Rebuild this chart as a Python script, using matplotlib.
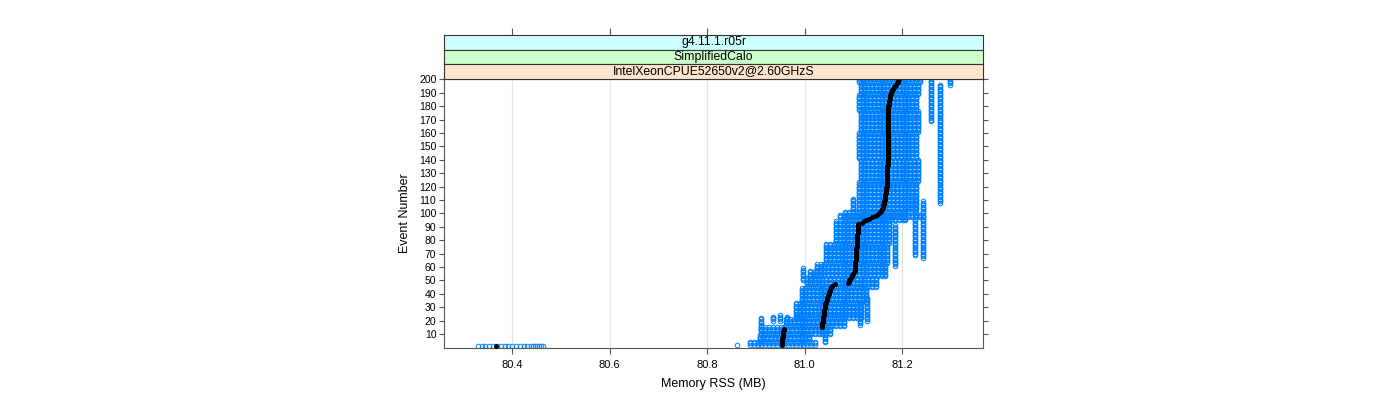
import matplotlib
matplotlib.use("Agg")
import matplotlib.pyplot as plt

plt.rcParams['font.family'] = ['Liberation Sans', 'DejaVu Sans']

# ---------------- data ----------------
STRIP_LABELS = ["g4.11.1.r05r", "SimplifiedCalo", "IntelXeonCPUE52650v2@2.60GHzS"]
STRIP_COLORS = ["#ccffff", "#ccffcc", "#ffe5cc"]
X_TICKS = [80.4, 80.6, 80.8, 81.0, 81.2]
X_TICK_LABELS = ["80.4", "80.6", "80.8", "81.0", "81.2"]
Y_TICKS = [10, 20, 30, 40, 50, 60, 70, 80, 90, 100,
           110, 120, 130, 140, 150, 160, 170, 180, 190, 200]
EVENTS = list(range(1, 201))

# median memory per event (black dots)
MEDIAN_RSS = (
    [80.367]
    + [80.953, 80.953, 80.953, 80.954, 80.954, 80.954, 80.955, 80.955, 80.955,
       80.956, 80.956, 80.957, 80.957]
    + [81.035, 81.035, 81.036, 81.036, 81.037, 81.037, 81.037, 81.038, 81.038,
       81.039, 81.039, 81.039, 81.040, 81.040, 81.041, 81.041, 81.042, 81.042,
       81.043, 81.044, 81.045, 81.045, 81.046, 81.047, 81.048, 81.049, 81.050,
       81.051, 81.052, 81.053, 81.054, 81.056, 81.062]
    + [81.088, 81.090, 81.091, 81.093, 81.095, 81.096, 81.097, 81.099, 81.100, 81.102]
    + [81.103] * 7 + [81.104] * 5 + [81.105] * 5 + [81.106] * 5 + [81.107] * 5
    + [81.108] * 4 + [81.109] * 4
    + [81.117, 81.121, 81.125, 81.131, 81.138, 81.143, 81.148, 81.151, 81.154,
       81.156, 81.158, 81.160]
    + [81.161, 81.161, 81.162, 81.162, 81.163, 81.164, 81.164, 81.165, 81.165,
       81.165, 81.166, 81.166, 81.167, 81.167, 81.167, 81.168]
    + [81.169] * 15 + [81.170] * 15
    + [81.170] * 15 + [81.171] * 15
    + [81.172, 81.172, 81.173, 81.173, 81.174, 81.174, 81.175, 81.175]
    + [81.176, 81.177, 81.178, 81.179, 81.180, 81.182, 81.184, 81.186, 81.188,
       81.190, 81.191, 81.193]
)

# memory levels seen as columns of circles (two interleaved level sets)
LEVELS_EVEN = [80.888, 80.896, 80.904, 80.911, 80.919, 80.927, 80.935, 80.943,
               80.951, 80.958, 80.966, 80.974, 80.982, 80.990, 80.997, 81.005,
               81.013, 81.021, 81.029, 81.036, 81.044, 81.052, 81.060, 81.068,
               81.076, 81.083, 81.091, 81.099, 81.107, 81.115, 81.122, 81.130,
               81.138, 81.146, 81.154, 81.161, 81.169, 81.177, 81.185, 81.193,
               81.201, 81.208, 81.216, 81.224, 81.232, 81.240]
LEVELS_ODD = [80.892, 80.900, 80.908, 80.915, 80.923, 80.931, 80.939, 80.947,
              80.955, 80.962, 80.970, 80.978, 80.986, 80.994, 81.001, 81.009,
              81.017, 81.025, 81.033, 81.040, 81.048, 81.056, 81.064, 81.072,
              81.080, 81.087, 81.095, 81.103, 81.111, 81.119, 81.126, 81.134,
              81.142, 81.150, 81.158, 81.165, 81.173, 81.181, 81.189, 81.197,
              81.205, 81.212, 81.220, 81.228, 81.236]

# event bands: first event, last event, lowest / highest memory, level set
BAND_FIRST = [2, 5, 10, 16, 22, 34, 45, 53, 63, 78, 95, 97, 102, 124, 141, 161, 177, 189, 198]
BAND_LAST = [4, 9, 15, 21, 33, 44, 52, 62, 77, 94, 101, 99, 123, 140, 160, 176, 188, 197, 200]
BAND_LOW = [80.886, 80.902, 80.906, 80.957, 80.978, 80.988, 81.004, 81.025, 81.041,
            81.058, 81.081, 81.070, 81.111, 81.113, 81.111, 81.113, 81.111, 81.113, 81.111]
BAND_HIGH = [81.022, 81.012, 81.053, 81.083, 81.118, 81.130, 81.151, 81.165, 81.175,
             81.180, 81.202, 81.240, 81.233, 81.233, 81.233, 81.233, 81.233, 81.237, 81.237]
BAND_SET = ["E", "O", "E", "O", "E", "O", "E", "O", "E", "O", "E", "O",
            "O", "E", "O", "E", "O", "E", "O"]

# isolated runs staying at one memory level over a range of events
RUN_RSS = [80.862, 80.910, 80.935, 80.950, 80.964, 80.984, 81.041, 81.113, 81.127,
           80.996, 81.011, 81.021, 81.205, 81.226, 81.242, 81.258, 81.277, 81.297,
           81.099, 81.184]
RUN_FIRST = [2, 13, 20, 20, 20, 23, 4, 17, 20, 50, 48, 48, 95, 69, 67, 169, 108, 196, 102, 61]
RUN_LAST = [2, 22, 23, 24, 23, 24, 14, 33, 37, 59, 57, 57, 105, 114, 109, 200, 196, 200, 111, 91]

# first event: memory values
FIRST_EVENT_RSS = [80.330, 80.338, 80.346, 80.354, 80.362, 80.370, 80.377, 80.385,
                   80.393, 80.401, 80.409, 80.416, 80.424, 80.432, 80.440, 80.444,
                   80.448, 80.452, 80.455, 80.460, 80.463]

# ---------------- assemble points ----------------
px, py = [], []
for v in FIRST_EVENT_RSS:
    px.append(v)
    py.append(1)
for f, l, lo, hi, s in zip(BAND_FIRST, BAND_LAST, BAND_LOW, BAND_HIGH, BAND_SET):
    levels = LEVELS_EVEN if s == "E" else LEVELS_ODD
    for v in levels:
        if lo <= v <= hi:
            for e in range(f, l + 1):
                px.append(v)
                py.append(e)
for v, f, l in zip(RUN_RSS, RUN_FIRST, RUN_LAST):
    for e in range(f, l + 1):
        px.append(v)
        py.append(e)

# ---------------- figure ----------------
W, H = 1400, 400
fig = plt.figure(figsize=(W / 100, H / 100), dpi=100)

L, R = 444 / W, 983 / W
B, T = 1 - 348 / H, 1 - 78.5 / H
ax = fig.add_axes([L, B, R - L, T - B])

XLIM = (80.261, 81.365)
YLIM = (-0.5, 200.6)

for xt in X_TICKS:
    ax.axvline(xt, color="#e6e6e6", lw=0.9, zorder=0)

ax.plot(px, py, linestyle="none", marker="o", ms=3.3, mfc="none",
        mec="#0080ff", mew=0.7, zorder=2)
ax.plot(MEDIAN_RSS, EVENTS, linestyle="none", marker="o", ms=3.6,
        mfc="black", mec="black", mew=0, zorder=3)

ax.set_xlim(*XLIM)
ax.set_ylim(*YLIM)
frame_col = "#555555"
for sp in ax.spines.values():
    sp.set_color(frame_col)
    sp.set_linewidth(0.8)

ax.set_xticks(X_TICKS)
ax.set_xticklabels(X_TICK_LABELS)
ax.set_yticks(Y_TICKS)
ax.set_yticklabels([str(t) for t in Y_TICKS])
ax.tick_params(axis="x", direction="out", length=4.5, width=0.8, color=frame_col,
               labelsize=8, pad=4)
ax.tick_params(axis="y", direction="out", length=3.5, width=0.8, color=frame_col,
               labelsize=7.5, pad=2, right=True)
ax.set_xlabel("Memory RSS (MB)", fontsize=9, labelpad=6)
ax.set_ylabel("Event Number", fontsize=9, labelpad=6)

# strips
sh = 14.5 / H
for i, (lab, col) in enumerate(zip(STRIP_LABELS, STRIP_COLORS)):
    bottom = T + (2 - i) * sh
    sax = fig.add_axes([L, bottom, R - L, sh])
    sax.set_facecolor(col)
    sax.set_xlim(*XLIM)
    sax.set_ylim(0, 1)
    sax.set_yticks([])
    for sp in sax.spines.values():
        sp.set_color("#333333")
        sp.set_linewidth(0.8)
    sax.text(0.5, 0.5, lab, transform=sax.transAxes, ha="center", va="center",
             fontsize=8.8)
    if i == 0:
        sax.xaxis.tick_top()
        sax.set_xticks(X_TICKS)
        sax.set_xticklabels([])
        sax.tick_params(axis="x", direction="out", length=5, width=0.8,
                        color=frame_col)
    else:
        sax.set_xticks([])

fig.savefig("out.png", dpi=100)
